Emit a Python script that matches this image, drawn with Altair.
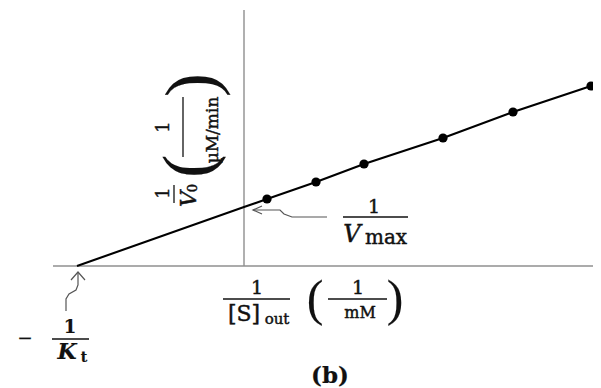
import altair as alt
import pandas as pd

# ---- data (arbitrary units) ----
inv_s = [2.3, 7.2, 12.0, 19.9, 26.9, 34.7]      # 1/[S]out
inv_v = [6.7, 8.4, 10.2, 12.8, 15.4, 18.0]      # 1/V0
neg_inv_kt = -16.7                               # x-intercept  -1/Kt
inv_vmax = 5.9                                   # y-intercept  1/Vmax

# ---- layout helpers (page pixel -> data units) ----
W, H = 585, 380
OX, OY, PX = 244, 266, 10.0
def X(px):
    return (px - OX) / PX
def Y(py):
    return (OY - py) / PX

xs = alt.Scale(domain=[X(8), X(8 + W)], nice=False, zero=False)
ys = alt.Scale(domain=[Y(8 + H), Y(8)], nice=False, zero=False)
def enc(**kw):
    return dict(x=alt.X("x:Q", scale=xs, axis=None), y=alt.Y("y:Q", scale=ys, axis=None), **kw)

SERIF = "DejaVu Serif"
INK = "#111111"

# axes lines
axes_df = pd.DataFrame([
    dict(x=X(53), x2=X(601), y=0.0, y2=0.0),
    dict(x=0.0, x2=0.0, y=0.0, y2=Y(10)),
])
axes = alt.Chart(axes_df).mark_rule(color="#8f8f8f", strokeWidth=1.4).encode(
    x=alt.X("x:Q", scale=xs, axis=None), x2="x2:Q",
    y=alt.Y("y:Q", scale=ys, axis=None), y2="y2:Q")

# fitted line through intercepts and data
line_df = pd.DataFrame({"x": [neg_inv_kt, 0.0] + inv_s, "y": [0.0, inv_vmax] + inv_v})
line = alt.Chart(line_df).mark_line(color="#000000", strokeWidth=2.1).encode(**enc())

pts_df = pd.DataFrame({"x": inv_s, "y": inv_v})
pts = alt.Chart(pts_df).mark_circle(color="#000000", size=85, opacity=1).encode(**enc())

# fraction bars
bars_df = pd.DataFrame([
    dict(x=X(52), x2=X(89), y=Y(339), y2=Y(339)),
    dict(x=X(223), x2=X(290), y=Y(299), y2=Y(299)),
    dict(x=X(328), x2=X(387), y=Y(299), y2=Y(299)),
    dict(x=X(343), x2=X(408), y=Y(217), y2=Y(217)),
    dict(x=X(174), x2=X(174), y=Y(185), y2=Y(203)),
    dict(x=X(183), x2=X(183), y=Y(97), y2=Y(157)),
])
bars = alt.Chart(bars_df).mark_rule(color=INK, strokeWidth=1.3).encode(
    x=alt.X("x:Q", scale=xs, axis=None), x2="x2:Q",
    y=alt.Y("y:Q", scale=ys, axis=None), y2="y2:Q")

# annotation arrows
arrow_rows = []
def add_path(g, pts_px):
    for i, (px, py) in enumerate(pts_px):
        arrow_rows.append(dict(g=g, i=i, x=X(px), y=Y(py)))
add_path("vmax_shaft", [(327, 217), (292, 217), (284, 214), (280, 210), (253, 210)])
add_path("vmax_head", [(262, 206), (253, 210), (262, 214)])
add_path("kt_shaft", [(66, 311), (66, 299), (69, 294), (76, 290), (78, 285), (78, 273)])
add_path("kt_head", [(71, 280), (78, 272), (85, 280)])
arrows_df = pd.DataFrame(arrow_rows)
arrows = alt.Chart(arrows_df).mark_line(color="#555555", strokeWidth=1.2, interpolate="linear").encode(
    **enc(detail="g:N", order="i:Q"))

# texts
def T(txt, px, py, size, angle=0):
    return dict(t=txt, x=X(px), y=Y(py), s=size, a=angle)

regular = pd.DataFrame([
    T("1", 257, 288, 19), T("[S]", 244, 314, 22), T("out", 277, 319, 15),
    T("1", 358, 288, 19), T("mM", 360, 313, 16),
    T("\u2212", 25, 339, 18), T("1", 374, 207, 19), T("max", 386, 238, 20),
    T("1", 164, 193, 18, 270), T("0", 193, 188, 13, 270),
    T("1", 164, 127, 18, 270), T("\u00b5M/min", 213, 130, 17, 270),
])
parens = pd.DataFrame([
    T("(", 315, 300, 50), T(")", 395, 300, 50),
    T("(", 190, 166, 70, 270), T(")", 193, 85, 72, 270),
])
bold = pd.DataFrame([
    T("1", 70, 328, 18), T("t", 84, 358, 14), T("(b)", 330, 376, 23),
])
italic = pd.DataFrame([
    T("V", 352, 235, 24), T("V", 189, 199, 22, 270),
])
bolditalic = pd.DataFrame([
    T("K", 67, 352, 22),
])

def text_layer(df, sw=0.45, font=SERIF, **kw):
    return alt.Chart(df).mark_text(font=font, color=INK, stroke=INK, strokeWidth=sw,
                                   align="center", baseline="middle", **kw).encode(
        **enc(text="t:N", size=alt.Size("s:Q", scale=None, legend=None),
              angle=alt.Angle("a:Q", scale=None)))

texts = [
    text_layer(regular),
    text_layer(parens, sw=0.1, font="Liberation Serif"),
    text_layer(bold, sw=0.2, fontWeight="bold"),
    text_layer(italic, fontStyle="italic"),
    text_layer(bolditalic, sw=0.2, fontStyle="italic", fontWeight="bold"),
]

chart = alt.layer(axes, line, pts, bars, arrows, *texts).properties(
    width=W, height=H, padding=0,
    autosize=alt.AutoSizeParams(type="none"),
    background="white",
).configure_view(strokeWidth=0)

chart.save("out.html", embed_options={"renderer": "svg", "actions": False})
